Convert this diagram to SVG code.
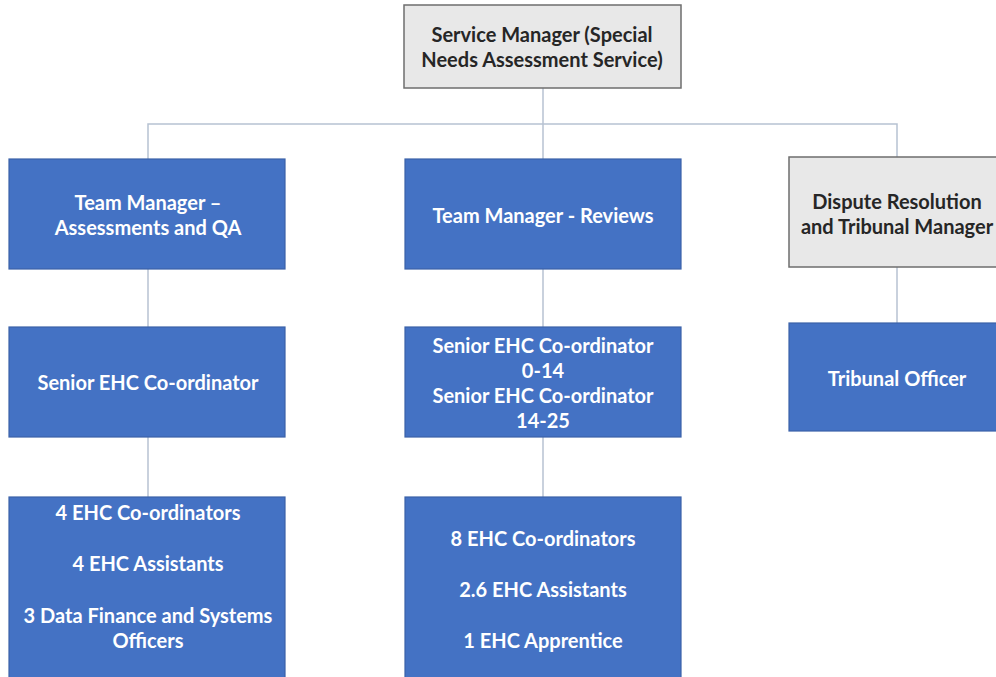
<svg xmlns="http://www.w3.org/2000/svg" width="996" height="677" viewBox="0 0 996 677">
<style>
.blue{fill:#4472c4;stroke:#3b62a8;stroke-width:1.2}
.gray{fill:#e8e8e8;stroke:#6e6e6e;stroke-width:1.5}
.wt{fill:#ffffff;font-family:Lato,"Open Sans",sans-serif;font-weight:bold;font-size:20px;text-anchor:middle;dominant-baseline:central}
.dt{fill:#262626;font-family:Lato,"Open Sans",sans-serif;font-weight:bold;font-size:20px;text-anchor:middle;dominant-baseline:central}
.conn{stroke:#b7c2d2;stroke-width:1.5;fill:none}
</style>
<rect width="996" height="677" fill="#ffffff"/>
<g id="connectors">
<path class="conn" d="M543 88 V159"/>
<path class="conn" d="M148 159 V124 H897 V158"/>
<path class="conn" d="M148 269 V327"/>
<path class="conn" d="M148 437 V497"/>
<path class="conn" d="M543 269 V327"/>
<path class="conn" d="M543 437 V497"/>
<path class="conn" d="M897 267 V323"/>
</g>
<g id="service-manager">
<rect class="gray" x="404" y="5" width="277" height="83"/>
<text class="dt" x="542" y="34">Service Manager (Special</text>
<text class="dt" x="542" y="59">Needs Assessment Service)</text>
</g>
<g id="tm-assessments">
<rect class="blue" x="9" y="159" width="276" height="110"/>
<text class="wt" x="148" y="202">Team Manager –</text>
<text class="wt" x="148" y="227">Assessments and QA</text>
</g>
<g id="tm-reviews">
<rect class="blue" x="405" y="159" width="276" height="110"/>
<text class="wt" x="543" y="215">Team Manager - Reviews</text>
</g>
<g id="dispute-manager">
<rect class="gray" x="789" y="157" width="220" height="110"/>
<text class="dt" x="897" y="201">Dispute Resolution</text>
<text class="dt" x="897" y="226">and Tribunal Manager</text>
</g>
<g id="senior-ehc-left">
<rect class="blue" x="9" y="327" width="276" height="110"/>
<text class="wt" x="148" y="382">Senior EHC Co-ordinator</text>
</g>
<g id="senior-ehc-middle">
<rect class="blue" x="405" y="327" width="276" height="110"/>
<text class="wt" x="543" y="345">Senior EHC Co-ordinator</text>
<text class="wt" x="543" y="370">0-14</text>
<text class="wt" x="543" y="395">Senior EHC Co-ordinator</text>
<text class="wt" x="543" y="420">14-25</text>
</g>
<g id="tribunal-officer">
<rect class="blue" x="789" y="323" width="220" height="108"/>
<text class="wt" x="897" y="378">Tribunal Officer</text>
</g>
<g id="staff-left">
<rect class="blue" x="9" y="497" width="276" height="190"/>
<text class="wt" x="148" y="512">4 EHC Co-ordinators</text>
<text class="wt" x="148" y="563">4 EHC Assistants</text>
<text class="wt" x="148" y="615">3 Data Finance and Systems</text>
<text class="wt" x="148" y="640">Officers</text>
</g>
<g id="staff-middle">
<rect class="blue" x="405" y="497" width="276" height="190"/>
<text class="wt" x="543" y="538">8 EHC Co-ordinators</text>
<text class="wt" x="543" y="589">2.6 EHC Assistants</text>
<text class="wt" x="543" y="640">1 EHC Apprentice</text>
</g>
</svg>
